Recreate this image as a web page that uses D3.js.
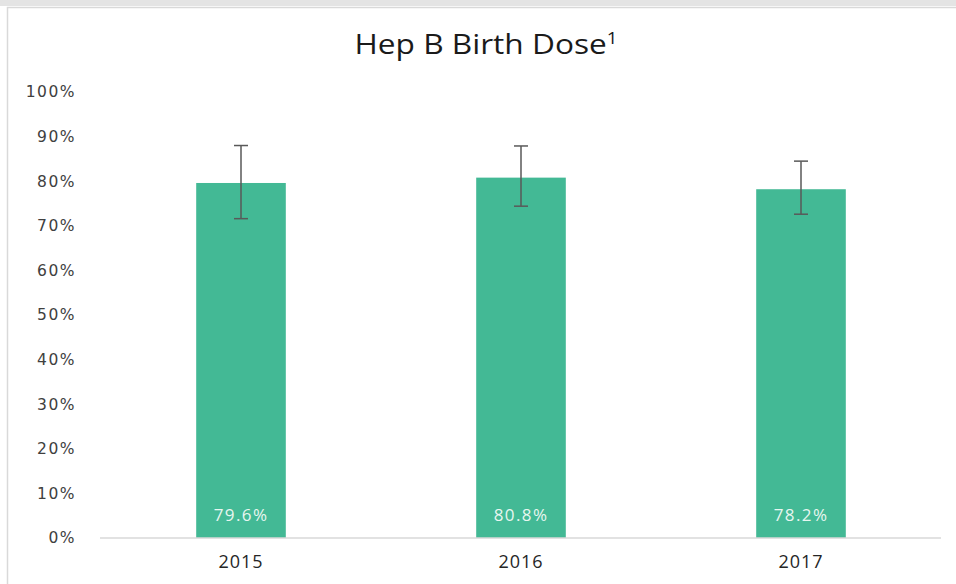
<!DOCTYPE html>
<html>
<head>
<meta charset="utf-8">
<script src="https://cdn.jsdelivr.net/npm/d3@7"></script>
<style>
  body { margin: 0; background: #fff; }
  svg { display: block; }
</style>
</head>
<body>
<div id="chart"></div>
<script>
var years = ["2015", "2016", "2017"]
var coverage = [0.796, 0.808, 0.782]
var upper = [0.880, 0.879, 0.845]
var lower = [0.716, 0.744, 0.726]
var yTicks = [0, 0.1, 0.2, 0.3, 0.4, 0.5, 0.6, 0.7, 0.8, 0.9, 1]
var title = "Hep B Birth Dose"

var W = 956, H = 584
var margin = {top: 92, right: 15, bottom: 46, left: 101}

var svg = d3.select("#chart")
    .append("svg")
    .attr("width", W)
    .attr("height", H)

// grey strip at the top and the chart frame
svg.append("rect")
  .attr("x", 0).attr("y", 0)
  .attr("width", W).attr("height", 6)
  .attr("fill", "#e4e4e4")

svg.append("rect")
  .attr("x", 7.5).attr("y", 7.5)
  .attr("width", W + 20).attr("height", H)
  .attr("fill", "#fff")
  .attr("stroke", "#d9d9d9")
  .attr("stroke-width", 1.5)

var x = d3.scaleBand()
    .domain(years)
    .range([margin.left, W - margin.right])
    .paddingInner(0.68)
    .paddingOuter(0.34)

var y = d3.scaleLinear()
    .domain([0, 1])
    .range([H - margin.bottom, margin.top])

// title with superscript
var t = svg.append("text")
    .attr("x", 486)
    .attr("y", 54)
    .attr("text-anchor", "middle")
    .attr("font-family", "'Open Sans', sans-serif")
    .attr("font-size", 27)
    .attr("fill", "#1a1a1a")
    .attr("textLength", 263)
    .attr("lengthAdjust", "spacingAndGlyphs")
t.append("tspan").text(title)
t.append("tspan")
  .attr("font-size", 16)
  .attr("dy", -10)
  .text("1")

// bars
svg.selectAll(".bar")
  .data(coverage)
  .enter().append("rect")
    .attr("class", "bar")
    .attr("x", function(d, i) { return x(years[i]) })
    .attr("y", function(d) { return y(d) })
    .attr("width", x.bandwidth())
    .attr("height", function(d) { return y(0) - y(d) })
    .attr("fill", "#43b995")

// error bars
var cap = 7
var eb = svg.selectAll(".err")
  .data(years)
  .enter().append("g")
    .attr("class", "err")
    .attr("stroke", "#595959")
    .attr("stroke-width", 1.5)

eb.append("line")
  .attr("x1", function(d) { return x(d) + x.bandwidth() / 2 })
  .attr("x2", function(d) { return x(d) + x.bandwidth() / 2 })
  .attr("y1", function(d, i) { return y(upper[i]) })
  .attr("y2", function(d, i) { return y(lower[i]) })
eb.append("line")
  .attr("x1", function(d) { return x(d) + x.bandwidth() / 2 - cap })
  .attr("x2", function(d) { return x(d) + x.bandwidth() / 2 + cap })
  .attr("y1", function(d, i) { return y(upper[i]) })
  .attr("y2", function(d, i) { return y(upper[i]) })
eb.append("line")
  .attr("x1", function(d) { return x(d) + x.bandwidth() / 2 - cap })
  .attr("x2", function(d) { return x(d) + x.bandwidth() / 2 + cap })
  .attr("y1", function(d, i) { return y(lower[i]) })
  .attr("y2", function(d, i) { return y(lower[i]) })

// value labels inside the bars
svg.selectAll(".val")
  .data(coverage)
  .enter().append("text")
    .attr("class", "val")
    .attr("x", function(d, i) { return x(years[i]) + x.bandwidth() / 2 })
    .attr("y", y(0) - 17)
    .attr("text-anchor", "middle")
    .attr("font-family", "'Open Sans', sans-serif")
    .attr("font-size", 17)
    .attr("letter-spacing", 1.4)
    .attr("fill", "#e8f6f0")
    .text(function(d) { return d3.format(".1%")(d) })

// y axis, labels only
var yAxis = svg.append("g")
    .attr("transform", "translate(" + (margin.left - 22) + ",0)")
    .call(d3.axisLeft(y).tickValues(yTicks).tickFormat(d3.format(".0%")).tickSize(0))
yAxis.select(".domain").remove()
yAxis.selectAll("text")
  .attr("font-family", "'DejaVu Sans', sans-serif")
  .attr("font-size", 15.5)
  .attr("letter-spacing", 1.5)
  .attr("fill", "#404040")

// x axis
var xAxis = svg.append("g")
    .attr("transform", "translate(0," + y(0) + ")")
    .call(d3.axisBottom(x).tickSize(0).tickPadding(17))
xAxis.select(".domain")
  .attr("stroke", "#d9d9d9")
  .attr("stroke-width", 1.5)
  .attr("d", "M" + (margin.left - 1) + ",0H" + (W - margin.right))
xAxis.selectAll("text")
  .attr("font-family", "'Open Sans', sans-serif")
  .attr("font-size", 18)
  .attr("letter-spacing", 1)
  .attr("fill", "#262626")
</script>
</body>
</html>
